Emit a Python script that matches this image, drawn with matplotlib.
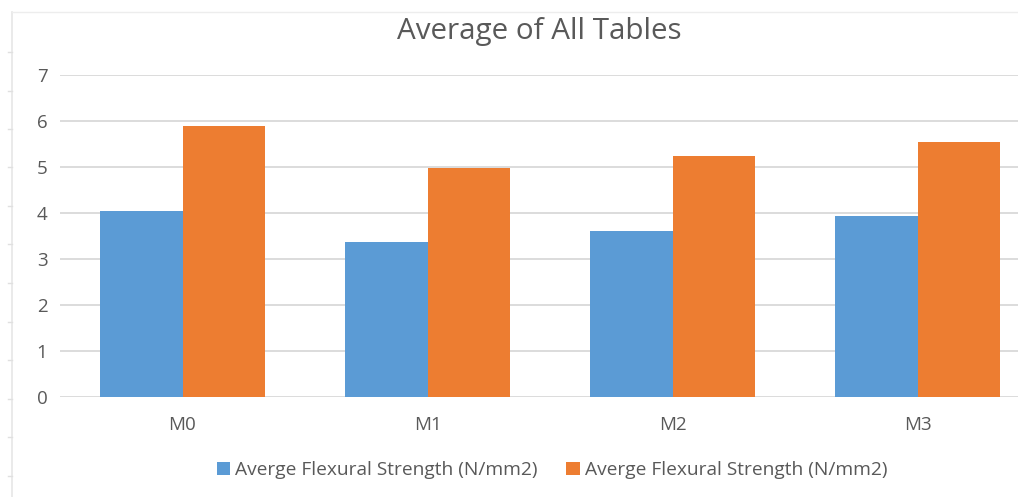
import matplotlib.pyplot as plt
import numpy as np
from matplotlib.lines import Line2D

plt.rcParams["font.family"] = ["Open Sans", "DejaVu Sans"]

categories = ["M0", "M1", "M2", "M3"]
flexural_a = [4.04, 3.37, 3.61, 3.93]
flexural_b = [5.89, 4.98, 5.24, 5.54]
series_labels = ["Averge Flexural Strength (N/mm2)", "Averge Flexural Strength (N/mm2)"]
y_ticks = [0, 1, 2, 3, 4, 5, 6, 7]

BLUE = "#5B9BD5"
ORANGE = "#ED7D31"
TEXT = "#595959"
GRID = "#D9D9D9"

W, H = 1018, 497
fig = plt.figure(figsize=(W / 100, H / 100), dpi=100)
fig.patch.set_facecolor("white")

# plot area runs a bit past the right edge of the canvas
ax = fig.add_axes([60 / W, 1 - 397 / H, (1040 - 60) / W, (397 - 75) / H])

x = np.arange(len(categories))
bw = 0.335
ax.bar(x - bw / 2, flexural_a, bw, color=BLUE, label=series_labels[0], zorder=2)
ax.bar(x + bw / 2, flexural_b, bw, color=ORANGE, label=series_labels[1], zorder=2)

ax.set_xlim(-0.5, len(categories) - 0.5)
ax.set_ylim(0, 7)
ax.set_yticks(y_ticks)
ax.set_xticks(x)
ax.set_xticklabels(categories)
ax.yaxis.grid(True, color=GRID, linewidth=1.3, zorder=0)
ax.set_axisbelow(True)
for s in ax.spines.values():
    s.set_visible(False)
ax.tick_params(axis="both", length=0, labelsize=13.5, colors=TEXT)
ax.tick_params(axis="y", pad=9)
ax.tick_params(axis="x", pad=14)

fig.text(539 / W, 1 - 32 / H, "Average of All Tables", ha="center", va="center",
         fontsize=21.3, color=TEXT)

# faint outer frame with ruler ticks on the left
fig.add_artist(Line2D([12 / W, 12 / W], [0, 1 - 12 / H], color="#E6E6E6", lw=1.2))
fig.add_artist(Line2D([12 / W, 1], [1 - 12 / H, 1 - 12 / H], color="#EDEDED", lw=1.0))
for yy in np.arange(52, H, 38.5):
    fig.add_artist(Line2D([8 / W, 12 / W], [1 - yy / H, 1 - yy / H], color="#E0E0E0", lw=1.0))

handles, labels = ax.get_legend_handles_labels()
fig.legend(handles, labels, loc="center", bbox_to_anchor=(552 / W, 1 - 470 / H), ncol=2,
           frameon=False, fontsize=13.8, labelcolor=TEXT, handlelength=0.7,
           handleheight=0.7, handletextpad=0.25, columnspacing=1.5)

fig.savefig("out.png", dpi=100)
